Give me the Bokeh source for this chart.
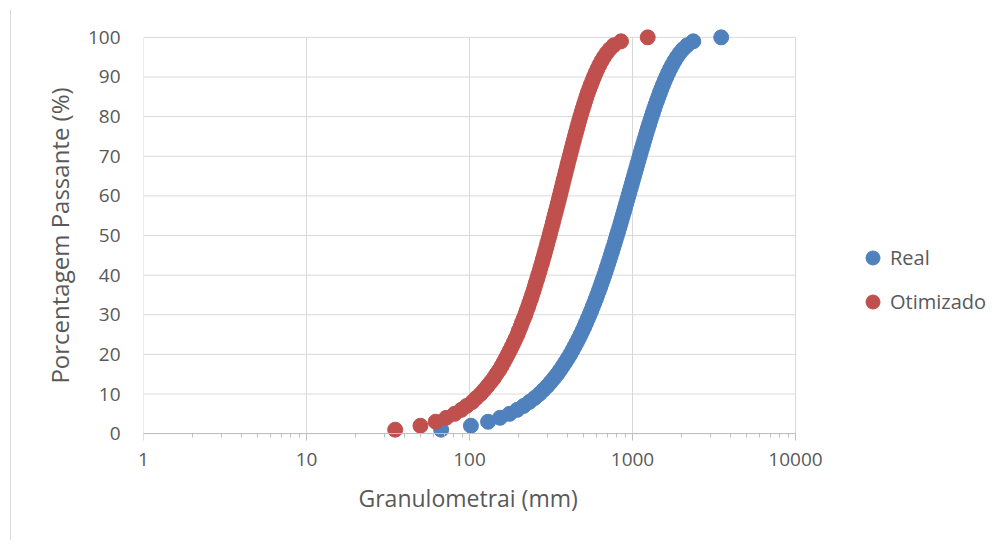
from bokeh.plotting import figure
from bokeh.models import (Range1d, FixedTicker, NumeralTickFormatter, Legend,
                          LegendItem, ColumnDataSource, LogAxis, Title)
from bokeh.embed import file_html
from bokeh.resources import INLINE

# ---------------- data ----------------
passante = [1, 2, 3, 4, 5, 6, 7, 8, 9, 10,
            11, 12, 13, 14, 15, 16, 17, 18, 19, 20,
            21, 22, 23, 24, 25, 26, 27, 28, 29, 30,
            31, 32, 33, 34, 35, 36, 37, 38, 39, 40,
            41, 42, 43, 44, 45, 46, 47, 48, 49, 50,
            51, 52, 53, 54, 55, 56, 57, 58, 59, 60,
            61, 62, 63, 64, 65, 66, 67, 68, 69, 70,
            71, 72, 73, 74, 75, 76, 77, 78, 79, 80,
            81, 82, 83, 84, 85, 86, 87, 88, 89, 90,
            91, 92, 93, 94, 95, 96, 97, 98, 99, 100]

real_mm = [67, 102, 130, 154, 176, 196, 215, 233, 251, 268,
           284, 300, 315, 330, 345, 359, 373, 387, 401, 415,
           428, 441, 455, 468, 481, 494, 507, 519, 532, 545,
           558, 570, 583, 596, 608, 621, 634, 646, 659, 672,
           685, 697, 710, 723, 736, 749, 762, 776, 789, 802,
           816, 830, 844, 857, 871, 886, 900, 914, 929, 944,
           959, 974, 990, 1005, 1022, 1038, 1055, 1071, 1089, 1106,
           1124, 1143, 1162, 1181, 1201, 1221, 1242, 1264, 1287, 1310,
           1334, 1359, 1385, 1413, 1442, 1472, 1504, 1538, 1574, 1612,
           1654, 1699, 1750, 1806, 1870, 1946, 2040, 2165, 2360, 3500]

otimizado_mm = [35, 50, 62, 72, 81, 89, 96, 104, 110, 117,
                123, 129, 135, 141, 146, 152, 157, 162, 167, 172,
                177, 182, 187, 192, 197, 201, 206, 210, 215, 220,
                224, 229, 233, 238, 242, 247, 251, 255, 260, 264,
                269, 273, 278, 282, 287, 291, 296, 300, 305, 310,
                314, 319, 324, 328, 333, 338, 343, 348, 353, 358,
                363, 368, 373, 378, 384, 389, 395, 400, 406, 412,
                418, 424, 430, 437, 443, 450, 457, 464, 471, 479,
                487, 495, 504, 513, 522, 532, 543, 555, 567, 580,
                594, 609, 626, 645, 667, 693, 725, 768, 850, 1240]

series_names = ["Real", "Otimizado"]
series_colors = ["#4F81BD", "#C0504D"]

x_ticks = [1, 10, 100, 1000, 10000]
x_minor = [m * d for d in [1, 10, 100, 1000] for m in range(2, 10)]
y_ticks = [0, 10, 20, 30, 40, 50, 60, 70, 80, 90, 100]

x_label = "Granulometrai (mm)"
y_label = "Porcentagem Passante (%)"

FONT = "Open Sans"
TXT = "#595959"
GRID = "#d9d9d9"
AXIS = "#bfbfbf"

# frame: 163 px per decade; it is widened to the right so the legend fits in it
PX_PER_DECADE = 163.0
FRAME_W = 852
x_end = 10 ** (FRAME_W / PX_PER_DECADE)

# ---------------- figure ----------------
p = figure(width=989, height=530, x_axis_type="log",
           x_range=Range1d(1, x_end), y_range=Range1d(-4, 104),
           output_backend="svg", toolbar_location=None, tools="",
           min_border_left=132, min_border_right=5,
           min_border_top=11, min_border_bottom=91)
p.margin = (10, 0, 0, 10)
p.styles = {"border-left": "1px solid #d9d9d9"}
p.outline_line_color = None
p.background_fill_color = "white"
p.border_fill_color = "white"
p.xgrid.grid_line_color = None
p.ygrid.grid_line_color = None

# gridlines, limited to the plot area 1..10000 x 0..100
p.segment(x0=x_ticks, y0=[y_ticks[0]] * len(x_ticks),
          x1=x_ticks, y1=[y_ticks[-1]] * len(x_ticks),
          line_color=GRID, line_width=1)
p.segment(x0=[x_ticks[0]] * len(y_ticks), y0=y_ticks,
          x1=[x_ticks[-1]] * len(y_ticks), y1=y_ticks,
          line_color=GRID, line_width=1)

# x axis: tick labels (in the panel below the frame)
xa = p.xaxis[0]
xa.ticker = FixedTicker(ticks=x_ticks, minor_ticks=x_minor)
xa.formatter = NumeralTickFormatter(format="0")
xa.bounds = (x_ticks[0], x_ticks[-1])
xa.axis_line_color = None
xa.major_tick_line_color = None
xa.minor_tick_line_color = None
xa.major_tick_out = 0
xa.minor_tick_out = 0
xa.major_label_text_font = FONT
xa.major_label_text_font_size = "19px"
xa.major_label_text_color = TXT
xa.major_label_standoff = 3

# x axis: line and ticks drawn at y = 0
xline = LogAxis(fixed_location=0, bounds=(x_ticks[0], x_ticks[-1]),
                ticker=FixedTicker(ticks=x_ticks, minor_ticks=x_minor),
                axis_line_color=AXIS, major_tick_line_color=AXIS,
                minor_tick_line_color=AXIS, major_tick_out=7, major_tick_in=0,
                minor_tick_out=4, minor_tick_in=0,
                major_label_text_font_size="1px", major_label_text_alpha=0,
                major_label_standoff=0)
p.add_layout(xline, "below")

# x axis title, centred under the 1..10000 axis
p.add_layout(Title(text=x_label, align="left", offset=215, standoff=22,
                   text_font=FONT, text_font_size="23px",
                   text_font_style="normal", text_color=TXT), "below")

# y axis
ya = p.yaxis[0]
ya.ticker = FixedTicker(ticks=y_ticks)
ya.axis_line_color = None
ya.major_tick_line_color = None
ya.minor_tick_line_color = None
ya.major_tick_out = 0
ya.minor_tick_out = 0
ya.major_label_text_font = FONT
ya.major_label_text_font_size = "19px"
ya.major_label_text_color = TXT
ya.major_label_standoff = 23
ya.axis_label = y_label
ya.axis_label_text_font = FONT
ya.axis_label_text_font_size = "24px"
ya.axis_label_text_font_style = "normal"
ya.axis_label_text_color = TXT
ya.axis_label_standoff = 9

# series
src_real = ColumnDataSource(dict(x=real_mm, y=passante))
src_otim = ColumnDataSource(dict(x=otimizado_mm, y=passante))
r_real = p.scatter("x", "y", source=src_real, size=15, marker="circle",
                   fill_color=series_colors[0], line_color=series_colors[0])
r_otim = p.scatter("x", "y", source=src_otim, size=15, marker="circle",
                   fill_color=series_colors[1], line_color=series_colors[1])

legend = Legend(items=[LegendItem(label=series_names[0], renderers=[r_real]),
                       LegendItem(label=series_names[1], renderers=[r_otim])],
                location=(712, 130), orientation="vertical",
                padding=0, margin=0, spacing=9,
                glyph_width=35, glyph_height=35, label_standoff=-2,
                label_text_font=FONT, label_text_font_size="20px",
                label_text_color=TXT, border_line_color=None,
                background_fill_alpha=0)
p.add_layout(legend)

open("out.html", "w").write(file_html(p, INLINE))
